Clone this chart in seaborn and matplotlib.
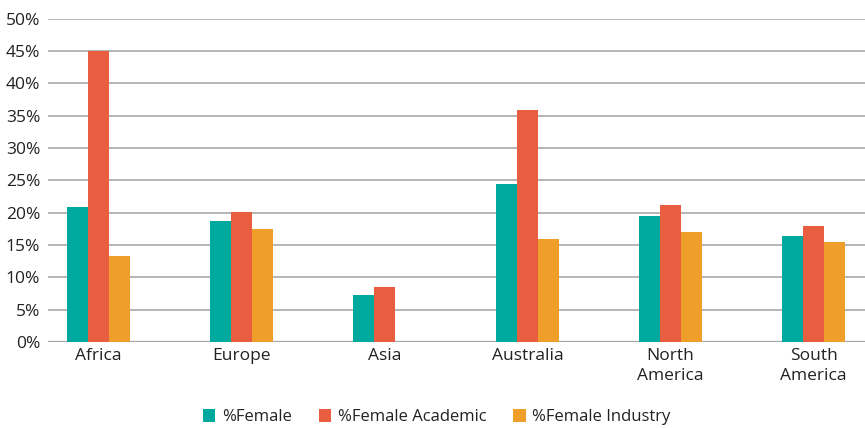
import numpy as np
import pandas as pd
import matplotlib
matplotlib.use("Agg")
import matplotlib.pyplot as plt
from matplotlib.ticker import PercentFormatter, MultipleLocator
import seaborn as sns

regions = ["Africa", "Europe", "Asia", "Australia", "North\nAmerica", "South\nAmerica"]
pct_female = [20.9, 18.7, 7.2, 24.5, 19.5, 16.4]
pct_female_academic = [45.0, 20.1, 8.5, 35.9, 21.2, 17.9]
pct_female_industry = [13.3, 17.5, np.nan, 15.9, 17.0, 15.5]

series_names = ["%Female", "%Female Academic", "%Female Industry"]
series_colors = ["#00A99D", "#E95D40", "#F09E2A"]

df = pd.DataFrame({
    "region": regions * 3,
    "series": [series_names[0]] * 6 + [series_names[1]] * 6 + [series_names[2]] * 6,
    "value": pct_female + pct_female_academic + pct_female_industry,
})

sns.set_theme(style="white")
plt.rcParams["font.family"] = ["Open Sans", "DejaVu Sans"]

fig = plt.figure(figsize=(8.65, 4.28), dpi=100)
ax = fig.add_axes([0.056, 0.201, 0.944, 0.755])

sns.barplot(data=df, x="region", y="value", hue="series", order=regions,
            hue_order=series_names, palette=series_colors, width=0.44,
            gap=0, saturation=1, errorbar=None, linewidth=0, ax=ax, legend=True)

ax.set_ylim(0, 50)
ax.set_xlim(-0.35, 5.36)
ax.yaxis.set_major_locator(MultipleLocator(5))
ax.yaxis.set_major_formatter(PercentFormatter(xmax=100, decimals=0))
ax.set_axisbelow(True)
ax.grid(axis="y", color="#a9a9a9", linewidth=1.2)
ax.grid(axis="x", visible=False)
for s in ax.spines.values():
    s.set_visible(False)
ax.axhline(0, color="#a0a0a0", linewidth=1.6, zorder=0.5)
ax.set_xlabel("")
ax.set_ylabel("")
ax.tick_params(axis="both", length=0, labelsize=12.5, colors="#222222", pad=4)
ax.tick_params(axis="y", pad=6)
for lbl in ax.get_xticklabels():
    lbl.set_linespacing(1.38)

handles, labels = ax.get_legend_handles_labels()
ax.legend_.remove()
fig.legend(handles, labels, loc="center", bbox_to_anchor=(0.505, 0.025),
           ncol=3, frameon=False, fontsize=12, handlelength=0.75,
           handleheight=0.75, handletextpad=0.4, columnspacing=1.6,
           labelcolor="#222222")

fig.savefig("out.png", dpi=100)
